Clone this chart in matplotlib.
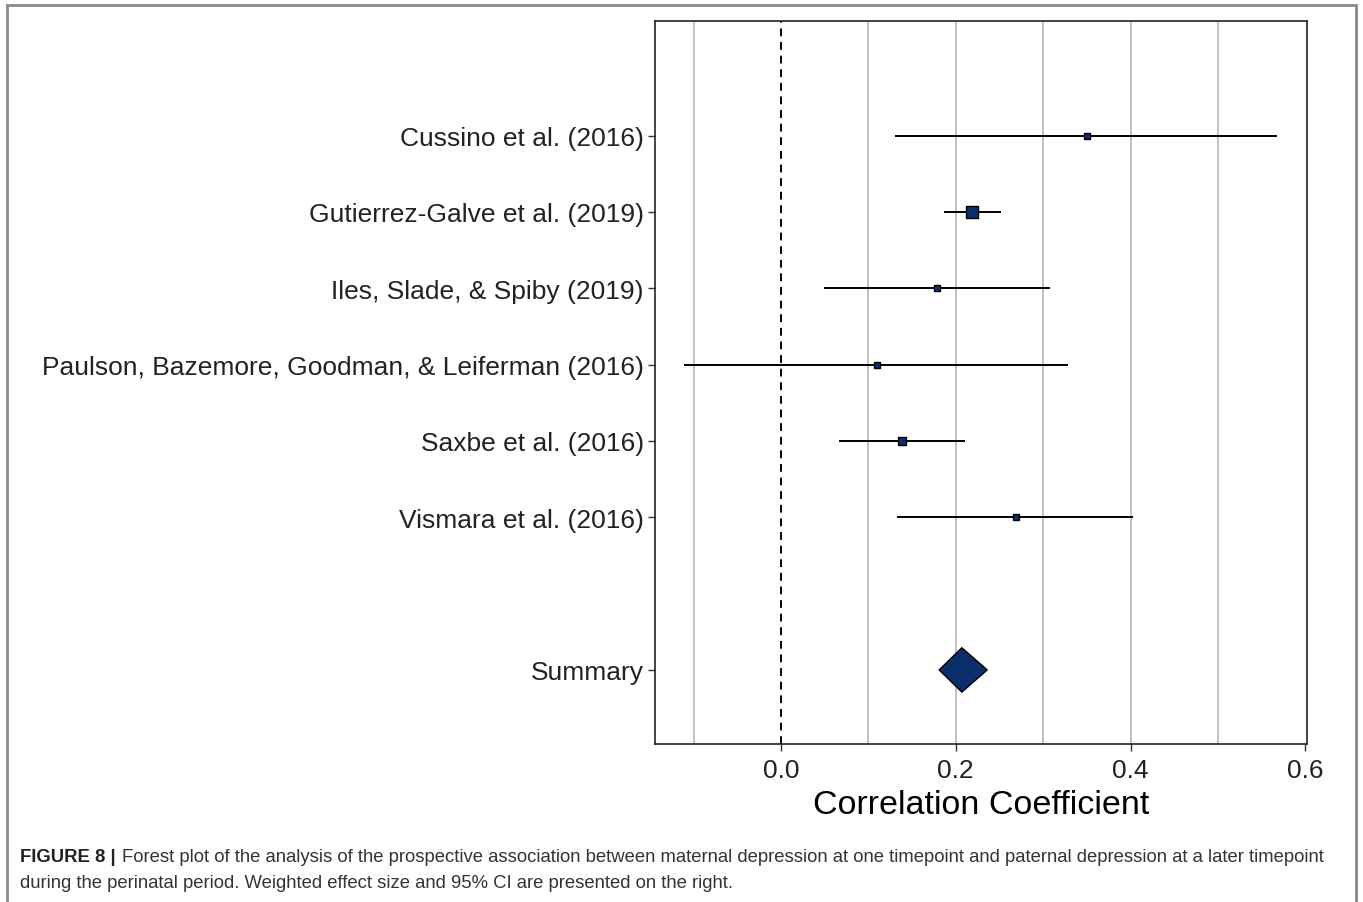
import numpy as np
import matplotlib
matplotlib.use("Agg")
import matplotlib.pyplot as plt
from matplotlib.patches import Rectangle

plt.rcParams['font.family'] = ['Liberation Sans', 'DejaVu Sans']

# study data
studies = ['Cussino et al. (2016)', 'Gutierrez-Galve et al. (2019)',
           'Iles, Slade, & Spiby (2019)',
           'Paulson, Bazemore, Goodman, & Leiferman (2016)',
           'Saxbe et al. (2016)', 'Vismara et al. (2016)']
est = [0.350, 0.219, 0.179, 0.110, 0.139, 0.269]
lo = [0.130, 0.186, 0.049, -0.111, 0.067, 0.133]
hi = [0.567, 0.252, 0.308, 0.328, 0.211, 0.403]
weights = [9, 46, 10, 7, 18, 10]

summary_label = 'Summary'
summary_est = 0.207
summary_lo = 0.181
summary_hi = 0.236

xticks = [0.0, 0.2, 0.4, 0.6]
minor_grid = [-0.1, 0.1, 0.2, 0.3, 0.4, 0.5]

navy = '#0b2f6b'

fig = plt.figure(figsize=(13.63, 9.03), dpi=100)
ax = fig.add_axes([0.4806, 0.175, 0.959 - 0.4806, 0.9756 - 0.175])

ypos = np.arange(len(studies) + 2, 2, -1)  # 8 .. 3
for y, e, l, h, w in zip(ypos, est, lo, hi, weights):
    ax.plot([l, h], [y, y], color='black', lw=1.4, zorder=3, solid_capstyle='butt')
    side_px = 1.9 * np.sqrt(w)
    ax.plot(e, y, marker='s', ms=side_px * 0.72, mfc=navy, mec='black',
            mew=1.0, zorder=4)

# summary diamond
ys = 1
half_h = 0.29
ax.fill([summary_lo, summary_est, summary_hi, summary_est],
        [ys, ys + half_h, ys, ys - half_h],
        facecolor=navy, edgecolor='black', lw=1.0, zorder=4)

for g in minor_grid:
    ax.axvline(g, color='#bdbdbd', lw=1.3, zorder=1)
ax.axvline(0, color='black', lw=1.4, ls=(0, (4, 3)), zorder=2)

ax.set_xlim(-0.144, 0.602)
ax.set_ylim(0.03, 9.5)
ax.set_xticks(xticks)
ax.set_xticklabels(['%.1f' % t for t in xticks])
ax.set_yticks(list(ypos) + [ys])
ax.set_yticklabels(studies + [summary_label])
ax.tick_params(axis='both', direction='out', length=5, width=1,
               labelsize=19, labelcolor='#222222', color='#333333', pad=3)
ax.tick_params(axis='x', pad=5)
for s in ax.spines.values():
    s.set_color('#222222')
    s.set_linewidth(1.2)
ax.set_xlabel('Correlation Coefficient', fontsize=24.5, color='black', labelpad=5)

# outer frame
fig.add_artist(Rectangle((7 / 1363, -0.01), (1356 - 7) / 1363, 1 - 6 / 903 + 0.01,
                         transform=fig.transFigure, fill=False,
                         edgecolor='#8a8a8a', lw=2))

fig.text(20 / 1363, 1 - 858 / 903, 'FIGURE 8 |', fontsize=13.3, fontweight='bold',
         color='#222222', va='center', ha='left')
fig.text(122 / 1363, 1 - 858 / 903,
         'Forest plot of the analysis of the prospective association between maternal '
         'depression at one timepoint and paternal depression at a later timepoint',
         fontsize=13.3, color='#333333', va='center', ha='left')
fig.text(20 / 1363, 1 - 884 / 903,
         'during the perinatal period. Weighted effect size and 95% CI are presented on the right.',
         fontsize=13.3, color='#333333', va='center', ha='left')

plt.savefig('out.png', dpi=100)
